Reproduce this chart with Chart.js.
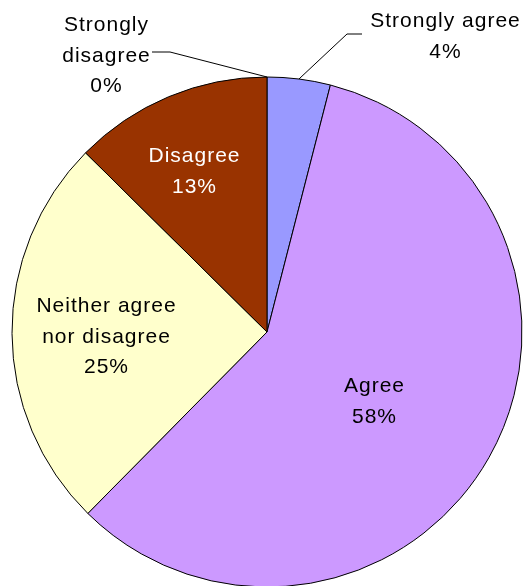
<!DOCTYPE html>
<html>
<head>
<meta charset="utf-8">
<script src="https://cdn.jsdelivr.net/npm/chart.js@4/dist/chart.umd.min.js"></script>
<style>
  html, body { margin: 0; padding: 0; background: #fff; overflow: hidden; }
  #wrap { width: 526px; height: 586px; }
</style>
</head>
<body>
<div id="wrap"><canvas id="pieChart" width="526" height="586"></canvas></div>
<script>
// data (share of answers, clockwise from 12 o'clock)
const categories = ['Strongly agree', 'Agree', 'Neither agree nor disagree', 'Disagree', 'Strongly disagree'];
const shares = [4.0, 58.4, 25.0, 12.6, 0];
const sliceColors = ['#9999ff', '#cc99ff', '#ffffcc', '#993300', '#ffffff'];

// how each label is written and where it sits
const labelLines = [
    ['Strongly agree'],
    ['Agree'],
    ['Neither agree', 'nor disagree'],
    ['Disagree'],
    ['Strongly', 'disagree']
];
const labelBox = [
    {x: 445, y: 27, color: '#000', leader: [[347, 34], [362, 34]]},
    {x: 374, y: 392, color: '#000'},
    {x: 106, y: 312, color: '#000'},
    {x: 194, y: 162, color: '#fff'},
    {x: 106, y: 31, color: '#000', leader: [[170, 52], [152, 52]]}
];
const lineGap = 30.5;

// labels with percentages and leader lines
const sliceLabels = {
    id: 'sliceLabels',
    afterDatasetsDraw(chart) {
        const ctx = chart.ctx;
        const arcs = chart.getDatasetMeta(0).data;
        const total = shares.reduce((a, b) => a + b, 0);
        ctx.save();
        ctx.font = '21px "Liberation Sans", Arial, sans-serif';
        ctx.letterSpacing = '1px';
        ctx.textAlign = 'center';
        ctx.textBaseline = 'alphabetic';
        arcs.forEach((arc, i) => {
            const box = labelBox[i];
            if (box.leader) {
                const mid = (arc.startAngle + arc.endAngle) / 2;
                const r = arc.outerRadius;
                ctx.beginPath();
                ctx.strokeStyle = '#000';
                ctx.lineWidth = 1;
                ctx.moveTo(arc.x + Math.cos(mid) * r, arc.y + Math.sin(mid) * r);
                box.leader.forEach(p => ctx.lineTo(p[0], p[1]));
                ctx.stroke();
            }
            const lines = labelLines[i].concat([Math.round(shares[i] / total * 100) + '%']);
            ctx.fillStyle = box.color;
            lines.forEach((txt, k) => {
                ctx.fillText(txt, box.x + 0.5, box.y + k * lineGap);
            });
        });
        ctx.restore();
    }
};

const pieCanvas = document.getElementById('pieChart').getContext('2d');
new Chart(pieCanvas, {
    type: 'pie',
    data: {
        labels: categories,
        datasets: [{
            data: shares,
            backgroundColor: sliceColors,
            borderColor: '#000',
            borderWidth: 1,
            radius: 255
        }]
    },
    options: {
        responsive: false,
        animation: false,
        layout: {
            padding: {left: 11, right: 3, top: 78, bottom: 0}
        },
        plugins: {
            legend: {display: false},
            tooltip: {enabled: false}
        }
    },
    plugins: [sliceLabels]
});
</script>
</body>
</html>
